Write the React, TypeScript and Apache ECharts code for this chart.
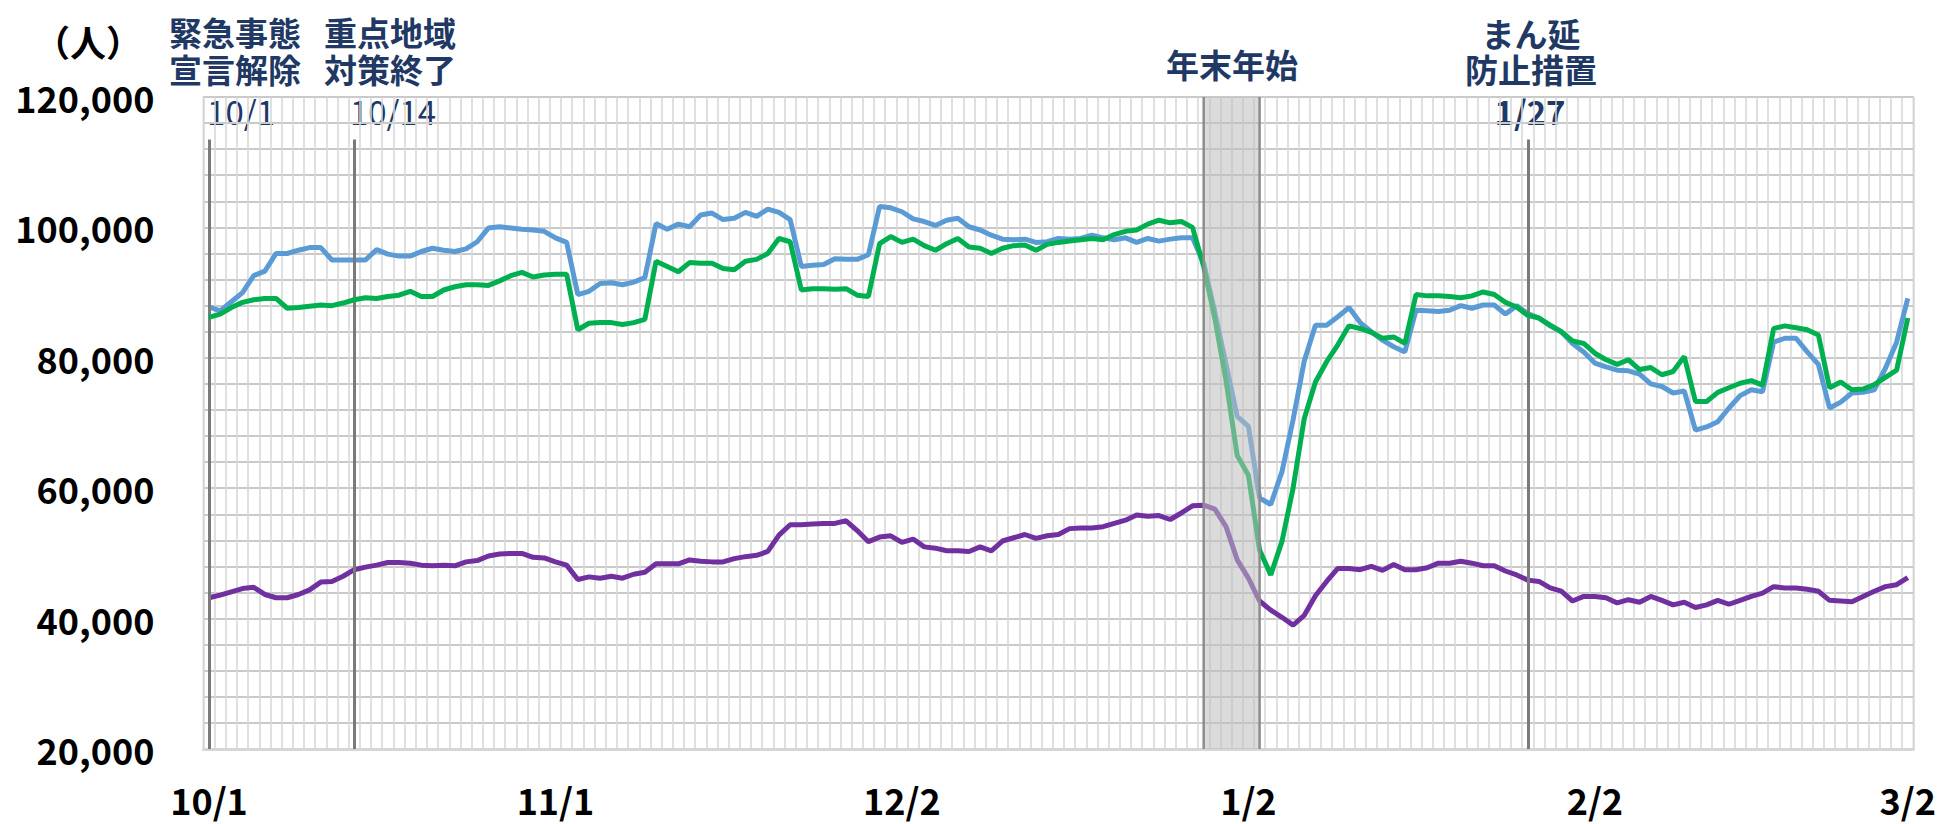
import React, { useEffect, useRef } from "react";
import * as echarts from "echarts";

// ---- data ----
const MONTHS = [10, 11, 12, 1, 2, 3];
const MONTH_DAYS = [31, 30, 31, 31, 28, 2];
const CATEGORIES: string[] = [];
MONTHS.forEach((m, k) => {
  for (let d = 1; d <= MONTH_DAYS[k]; d++) CATEGORIES.push(`${m}/${d}`);
});

const X_TICK_LABELS = ["10/1", "11/1", "12/2", "1/2", "2/2", "3/2"];
const Y_MIN = 20000;
const Y_MAX = 120000;
const Y_STEP = 4000;
const Y_LABEL_STEP = 20000;

// blue series
const BLUE = [
  87800, 87200, 88600, 90000, 92600, 93300, 96000, 96000, 96500, 96900,
  96900, 95000, 95000, 95000, 95000, 96600, 95900, 95600, 95600, 96300,
  96800, 96500, 96300, 96700, 97800, 99900, 100100, 99900, 99700, 99600,
  99400, 98400, 97700, 89700, 90200, 91400, 91500, 91200, 91600, 92300,
  100600, 99700, 100500, 100100, 101900, 102200, 101200, 101400, 102300, 101700,
  102800, 102300, 101200, 94000, 94200, 94300, 95200, 95100, 95100, 95800,
  103200, 103000, 102400, 101300, 100900, 100300, 101100, 101400, 100100, 99600,
  98800, 98200, 98100, 98200, 97700, 97800, 98300, 98200, 98300, 98800,
  98400, 98100, 98400, 97700, 98300, 97900, 98200, 98400, 98400, 94500,
  87000, 79000, 71000, 69500, 58500, 57500, 62500, 70500, 79500, 85000,
  85000, 86300, 87700, 85400, 84000, 82700, 81700, 80900, 87300, 87200,
  87100, 87300, 88000, 87600, 88100, 88100, 86700, 88000, 86800, 86100,
  84900, 84000, 82200, 80900, 79200, 78600, 78100, 78000, 77500, 76000,
  75600, 74600, 74900, 68900, 69400, 70200, 72300, 74200, 75100, 74800,
  82400, 83000, 83000, 80900, 79000, 72300, 73200, 74600, 74700, 75100,
  78400, 82400, 89100,
];

// green series
const GREEN = [
  86200, 86700, 87700, 88500, 88900, 89100, 89100, 87600, 87700, 87900,
  88100, 88000, 88400, 88900, 89200, 89100, 89400, 89600, 90200, 89400,
  89400, 90400, 90900, 91200, 91200, 91100, 91800, 92600, 93100, 92400,
  92700, 92800, 92800, 84300, 85300, 85400, 85400, 85100, 85400, 85900,
  94800, 94000, 93200, 94600, 94500, 94500, 93700, 93500, 94800, 95100,
  96000, 98300, 97800, 90400, 90600, 90600, 90500, 90600, 89600, 89400,
  97500, 98600, 97700, 98200, 97200, 96500, 97500, 98300, 97000, 96800,
  96000, 96800, 97200, 97300, 96500, 97400, 97700, 97900, 98100, 98300,
  98100, 98900, 99400, 99600, 100500, 101100, 100700, 100900, 100000, 94000,
  86000, 76500, 65000, 62000, 50500, 46700, 51800, 60000, 70700, 76300,
  79400, 82000, 84900, 84500, 83900, 83000, 83200, 82200, 89700, 89500,
  89500, 89400, 89200, 89500, 90100, 89700, 88500, 87800, 86500, 86100,
  85000, 84000, 82600, 82200, 80700, 79700, 79000, 79700, 78200, 78500,
  77400, 77900, 80200, 73300, 73300, 74700, 75400, 76100, 76500, 75800,
  84500, 84900, 84600, 84300, 83500, 75400, 76300, 75100, 75200, 75900,
  77000, 78100, 86100,
];

// purple series
const PURPLE = [
  43200, 43600, 44100, 44600, 44800, 43700, 43200, 43200, 43700, 44400,
  45600, 45700, 46500, 47500, 47900, 48200, 48600, 48600, 48500, 48200,
  48100, 48200, 48100, 48700, 48900, 49600, 49900, 50000, 50000, 49400,
  49300, 48700, 48200, 46000, 46400, 46200, 46500, 46200, 46800, 47100,
  48400, 48400, 48400, 49000, 48800, 48700, 48700, 49200, 49500, 49700,
  50300, 52800, 54400, 54400, 54500, 54600, 54600, 55000, 53500, 51800,
  52500, 52700, 51700, 52200, 51000, 50800, 50400, 50400, 50300, 51000,
  50400, 51900, 52400, 52900, 52300, 52700, 52900, 53800, 53900, 53900,
  54100, 54600, 55100, 55900, 55700, 55800, 55200, 56200, 57300, 57400,
  56800, 54100, 49000, 46200, 42700, 41300, 40200, 39000, 40500, 43500,
  45700, 47700, 47700, 47500, 48000, 47400, 48300, 47500, 47500, 47800,
  48500, 48500, 48800, 48500, 48100, 48100, 47300, 46700, 45900, 45700,
  44700, 44200, 42700, 43400, 43400, 43200, 42400, 42900, 42500, 43400,
  42800, 42100, 42500, 41700, 42100, 42800, 42200, 42800, 43400, 43900,
  44900, 44700, 44700, 44500, 44200, 42800, 42700, 42600, 43400, 44200,
  44900, 45200, 46300,
];

const EVENT_DATES = ["10/1", "10/14", "1/27"];
const EVENT_LINE_TOP = 113500;
const SHADE_RANGE = ["12/29", "1/3"];

const NAVY = "#1F3864";
const JP = "'Noto Sans CJK JP', 'Noto Sans', sans-serif";

export default function App() {
  const ref = useRef<HTMLDivElement>(null);
  useEffect(() => {
    if (!ref.current) return;
    const chart = echarts.init(ref.current, undefined, { renderer: "svg" });

    const txt = (
      text: string,
      x: number,
      y: number,
      size: number,
      weight: string,
      color: string,
      lineHeight?: number
    ) => ({
      type: "text",
      x,
      y,
      style: {
        text,
        font: `${weight} ${size}px ${JP}`,
        fontSize: size,
        fontWeight: weight,
        fontFamily: JP,
        textAlign: "center",
        textVerticalAlign: "middle",
        fill: color,
        lineHeight: lineHeight || Math.round(size * 1.15),
      },
    });

    const lineStyleBase = { width: 5 };
    chart.setOption({
      animation: false,
      backgroundColor: "#ffffff",
      grid: {
        left: 203.4,
        right: 25.4,
        top: 97,
        bottom: 75,
        show: true,
        borderColor: "#cfcfcf",
        borderWidth: 1.5,
      },
      xAxis: {
        type: "category",
        data: CATEGORIES,
        boundaryGap: true,
        axisLine: { show: true, lineStyle: { color: "#d6d6d6", width: 3 } },
        axisTick: { show: false },
        axisLabel: {
          interval: (_i: number, v: string) => X_TICK_LABELS.includes(v),
          margin: 32,
          fontSize: 36,
          fontWeight: "bold",
          fontFamily: JP,
          color: "#000",
        },
        splitLine: { show: true, interval: 0, lineStyle: { color: "#d6d6d6", width: 1.5 } },
      },
      yAxis: {
        type: "value",
        min: Y_MIN,
        max: Y_MAX,
        interval: Y_STEP,
        axisLine: { show: false },
        axisTick: { show: false },
        axisLabel: {
          margin: 49,
          fontSize: 36,
          fontWeight: "bold",
          fontFamily: JP,
          color: "#000",
          formatter: (v: number) => (v % Y_LABEL_STEP === 0 ? v.toLocaleString("en-US") : ""),
        },
        splitLine: { show: true, lineStyle: { color: "#c9c9c9", width: 2 } },
      },
      series: [
        {
          type: "line",
          data: PURPLE,
          symbol: "none",
          lineStyle: { ...lineStyleBase, color: "#7030A0" },
          itemStyle: { color: "#7030A0" },
          z: 3,
          markLine: {
            silent: true,
            symbol: ["none", "none"],
            label: { show: false },
            lineStyle: { color: "#7a7a7a", width: 3, type: "solid" },
            data: EVENT_DATES.map((d) => [
              { coord: [d, EVENT_LINE_TOP] },
              { coord: [d, Y_MIN] },
            ]),
          },
        },
        {
          type: "line",
          data: BLUE,
          symbol: "none",
          lineStyle: { ...lineStyleBase, color: "#5B9BD5" },
          itemStyle: { color: "#5B9BD5" },
          z: 4,
        },
        {
          type: "line",
          data: GREEN,
          symbol: "none",
          lineStyle: { ...lineStyleBase, color: "#00B050" },
          itemStyle: { color: "#00B050" },
          z: 5,
        },
        {
          type: "custom",
          silent: true,
          z: 10,
          data: [[CATEGORIES.indexOf(SHADE_RANGE[0]), CATEGORIES.indexOf(SHADE_RANGE[1])]],
          renderItem: (_params: any, api: any) => {
            const p1 = api.coord([api.value(0), Y_MAX]);
            const p2 = api.coord([api.value(1), Y_MIN]);
            return {
              type: "group",
              children: [
                {
                  type: "rect",
                  shape: { x: p1[0], y: p1[1], width: p2[0] - p1[0], height: p2[1] - p1[1] },
                  style: { fill: "rgba(190,190,190,0.55)" },
                },
                {
                  type: "line",
                  shape: { x1: p1[0], y1: p1[1], x2: p1[0], y2: p2[1] },
                  style: { stroke: "#8c8c8c", lineWidth: 2.5 },
                },
                {
                  type: "line",
                  shape: { x1: p2[0], y1: p1[1], x2: p2[0], y2: p2[1] },
                  style: { stroke: "#8c8c8c", lineWidth: 2.5 },
                },
              ],
            };
          },
        },
      ],
      graphic: [
        txt("（人）", 88, 41, 36, "bold", "#000"),
        txt("緊急事態\n宣言解除", 235, 50, 33, "bold", NAVY, 37),
        txt("10/1", 241, 111, 33, "normal", NAVY),
        txt("重点地域\n対策終了", 390, 50, 33, "bold", NAVY, 37),
        txt("10/14", 393, 111, 33, "normal", NAVY),
        txt("年末年始", 1232, 64, 33, "bold", NAVY),
        txt("まん延\n防止措置", 1531, 51, 33, "bold", NAVY, 36),
        txt("1/27", 1530, 111, 33, "bold", NAVY),
      ],
    });
    return () => chart.dispose();
  }, []);
  return (
    <div
      ref={ref}
      style={{ position: "fixed", left: 0, top: 0, width: "1939px", height: "824px", background: "#fff" }}
    />
  );
}
